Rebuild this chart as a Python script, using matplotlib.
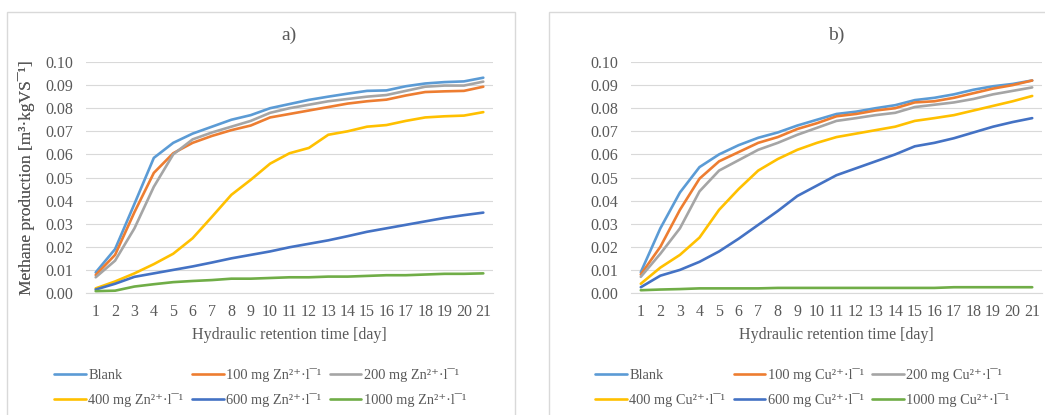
import numpy as np
import matplotlib
matplotlib.use("Agg")
import matplotlib.pyplot as plt
from matplotlib.patches import Rectangle

plt.rcParams['font.family'] = ['Liberation Serif', 'DejaVu Serif']

days = list(range(1, 22))

# panel a) - zinc
zn_blank = [0.0089, 0.019, 0.0386, 0.0585, 0.065, 0.069, 0.072, 0.075, 0.077, 0.080, 0.0818,
            0.0836, 0.085, 0.0863, 0.0875, 0.0877, 0.0895, 0.0907, 0.0913, 0.0916, 0.0932]
zn_100 = [0.0078, 0.0165, 0.035, 0.052, 0.0605, 0.065, 0.068, 0.0705, 0.0725, 0.076, 0.0775,
          0.079, 0.0805, 0.082, 0.083, 0.0837, 0.0855, 0.087, 0.0873, 0.0875, 0.0893]
zn_200 = [0.0068, 0.014, 0.028, 0.046, 0.060, 0.0665, 0.0695, 0.072, 0.0745, 0.078, 0.080,
          0.0815, 0.083, 0.084, 0.085, 0.0857, 0.0875, 0.0893, 0.0898, 0.0898, 0.0915]
zn_400 = [0.002, 0.005, 0.0085, 0.0125, 0.017, 0.0237, 0.033, 0.0425, 0.049, 0.056, 0.0605,
          0.0628, 0.0685, 0.070, 0.072, 0.0727, 0.0745, 0.076, 0.0765, 0.0768, 0.0783]
zn_600 = [0.0015, 0.004, 0.007, 0.0085, 0.010, 0.0115, 0.0132, 0.015, 0.0165, 0.018, 0.0198,
          0.0213, 0.0228, 0.0246, 0.0265, 0.028, 0.0295, 0.031, 0.0325, 0.0337, 0.0348]
zn_1000 = [0.0008, 0.0010, 0.0028, 0.0038, 0.0047, 0.0052, 0.0056, 0.0062, 0.0062, 0.0065, 0.0068,
           0.0068, 0.0071, 0.0071, 0.0074, 0.0077, 0.0077, 0.0080, 0.0083, 0.0083, 0.0085]

# panel b) - copper
cu_blank = [0.009, 0.028, 0.0435, 0.0545, 0.060, 0.064, 0.0672, 0.0695, 0.0725, 0.075, 0.0775,
            0.0785, 0.080, 0.0813, 0.0835, 0.0845, 0.086, 0.088, 0.0895, 0.0905, 0.092]
cu_100 = [0.008, 0.020, 0.036, 0.0495, 0.057, 0.061, 0.065, 0.0675, 0.071, 0.0735, 0.0765,
          0.0775, 0.079, 0.080, 0.0825, 0.083, 0.0845, 0.0865, 0.0885, 0.090, 0.092]
cu_200 = [0.007, 0.017, 0.028, 0.044, 0.053, 0.0575, 0.062, 0.065, 0.0685, 0.0715, 0.0745,
          0.0757, 0.077, 0.078, 0.0805, 0.0815, 0.0825, 0.084, 0.086, 0.0875, 0.089]
cu_400 = [0.004, 0.011, 0.0165, 0.024, 0.036, 0.045, 0.053, 0.058, 0.062, 0.065, 0.0675,
          0.069, 0.0705, 0.072, 0.0745, 0.0757, 0.077, 0.079, 0.081, 0.083, 0.0853]
cu_600 = [0.0025, 0.0075, 0.010, 0.0135, 0.018, 0.0235, 0.0295, 0.0355, 0.042, 0.0465, 0.051,
          0.054, 0.057, 0.060, 0.0635, 0.065, 0.067, 0.0695, 0.072, 0.074, 0.0757]
cu_1000 = [0.0012, 0.0015, 0.0017, 0.002, 0.002, 0.002, 0.002, 0.0022, 0.0022, 0.0022, 0.0022,
           0.0022, 0.0022, 0.0022, 0.0022, 0.0022, 0.0025, 0.0025, 0.0025, 0.0025, 0.0025]

doses = ["100", "200", "400", "600", "1000"]
colors = ["#5B9BD5", "#ED7D31", "#A5A5A5", "#FFC000", "#4472C4", "#70AD47"]
txt = "#595959"
grid = "#D9D9D9"

W, H = 1045, 415
fig = plt.figure(figsize=(W / 100, H / 100), dpi=100)

# chart area borders (px: left, top, right, bottom)
for l, t, r, b in [(7, 12, 515, 430), (549, 12, 1060, 430)]:
    fig.patches.append(Rectangle((l / W, 1 - b / H), (r - l) / W, (b - t) / H,
                                 transform=fig.transFigure, fill=False,
                                 edgecolor=grid, lw=1.0))

panels = [
    ("a)", "Zn", [zn_blank, zn_100, zn_200, zn_400, zn_600, zn_1000], 86, 407, 47),
    ("b)", "Cu", [cu_blank, cu_100, cu_200, cu_400, cu_600, cu_1000], 631, 411, 588),
]

for title, metal, series, left, width, leg_x in panels:
    ax = fig.add_axes([left / W, 1 - 293 / H, width / W, 231 / H])
    labels = ["Blank"] + [f"{d} mg {metal}²⁺·l¯¹" for d in doses]
    for s, c, lab in zip(series, colors, labels):
        ax.plot(days, s, color=c, lw=1.9, label=lab, solid_capstyle="round")
    ax.set_xlim(0.5, 21.5)
    ax.set_ylim(0, 0.10)
    ax.set_xticks(days)
    ax.set_yticks(np.arange(0, 0.101, 0.01))
    ax.yaxis.set_major_formatter(matplotlib.ticker.FormatStrFormatter("%.2f"))
    ax.grid(axis="y", color=grid, lw=0.8)
    ax.set_axisbelow(True)
    for sp in ["top", "right", "left"]:
        ax.spines[sp].set_visible(False)
    ax.spines["bottom"].set_color(grid)
    ax.tick_params(length=0, labelsize=11.5, colors=txt)
    ax.tick_params(axis="y", pad=9)
    ax.tick_params(axis="x", pad=8)
    ax.set_title(title, fontsize=14, color=txt, pad=16)
    ax.set_xlabel("Hydraulic retention time [day]", fontsize=11.5, color=txt, labelpad=5)
    ax.set_ylabel("Methane production [m³·kgVS¯¹]", fontsize=12.5, color=txt)
    ax.yaxis.set_label_coords((35 - left) / width, 0.5)
    handles, labs = ax.get_legend_handles_labels()
    # matplotlib fills column-wise; reorder to get row-wise layout
    order = [0, 3, 1, 4, 2, 5]
    fig.legend([handles[i] for i in order], [labs[i] for i in order], ncol=3,
               loc="upper left", bbox_to_anchor=(leg_x / W, 1 - 361 / H),
               frameon=False, fontsize=10.4, labelcolor=txt, borderpad=0,
               handlelength=2.2, handletextpad=0.15, columnspacing=0.6,
               labelspacing=0.75)

fig.savefig("out.png", dpi=100)
